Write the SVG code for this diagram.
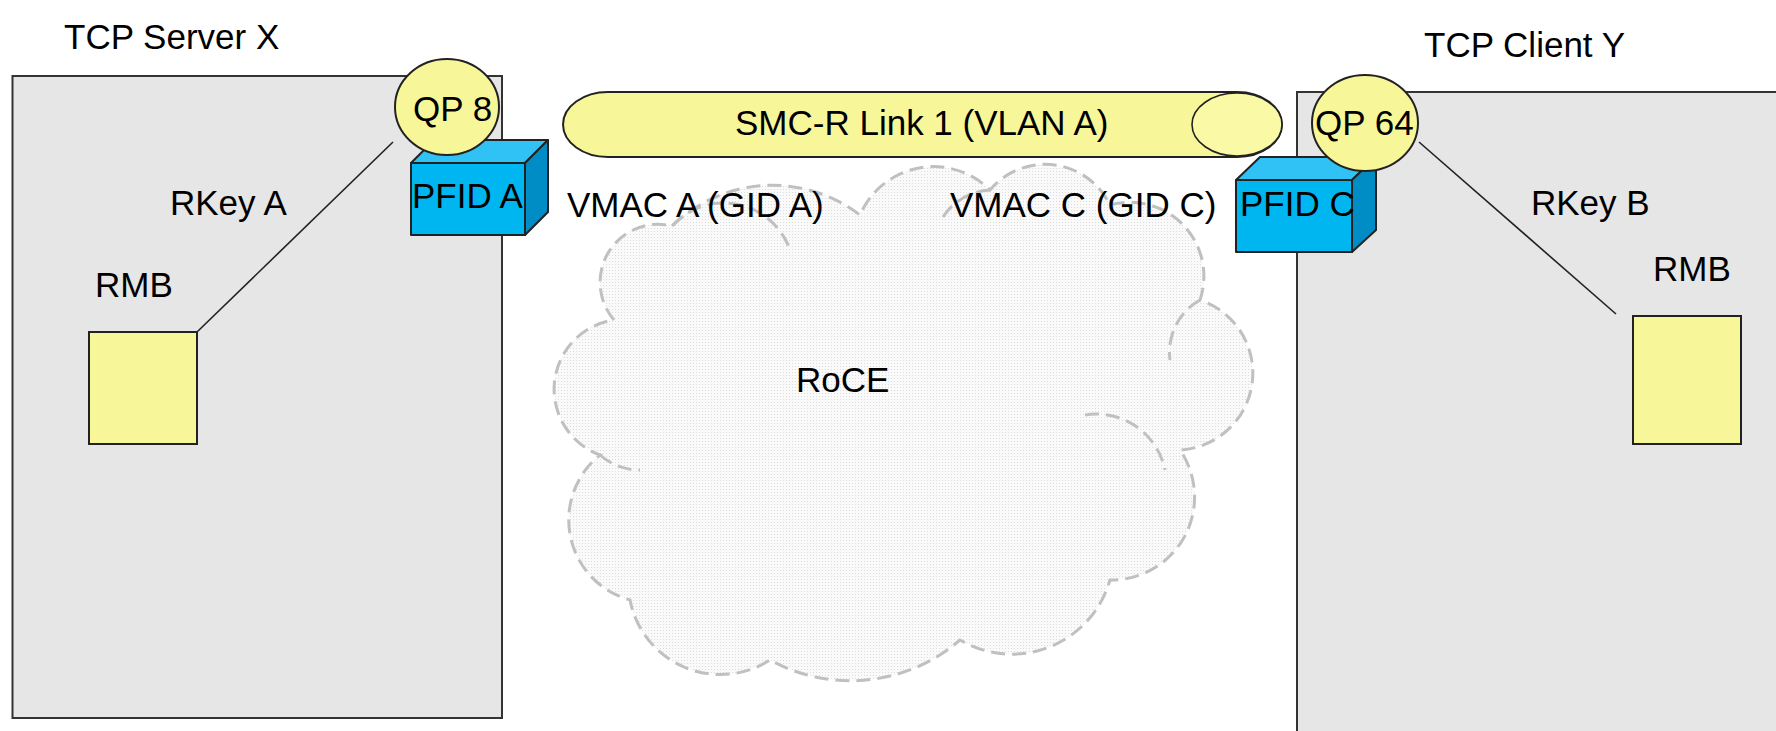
<svg xmlns="http://www.w3.org/2000/svg" width="1776" height="731" viewBox="0 0 1776 731">
<style>
text{font-family:"Liberation Sans",Arial,sans-serif;font-size:35px;fill:#000}
.host{fill:#e6e6e6;stroke:#333;stroke-width:2}
.yel{fill:#f7f79a;stroke:#222;stroke-width:2}
.front{fill:#00b6f0;stroke:#222;stroke-width:2;stroke-linejoin:round}
.top{fill:#30c2f4;stroke:#222;stroke-width:2;stroke-linejoin:round}
.side{fill:#008cc4;stroke:#222;stroke-width:2;stroke-linejoin:round}
.conn{stroke:#222;stroke-width:1.6;fill:none}
.cloud{stroke:#c0c0c0;stroke-width:3;stroke-dasharray:14 7}
</style>
<defs>
<pattern id="dots" width="3" height="3" patternUnits="userSpaceOnUse">
<rect width="3" height="3" fill="#fafafa"/>
<rect width="1" height="1" fill="#dcdcdc"/>
</pattern>
</defs>
<g id="server-x">
<rect class="host" x="12.5" y="76" width="489.5" height="642"/>
<text x="64" y="49">TCP Server X</text>
</g>
<g id="client-y">
<rect class="host" x="1297" y="92" width="500" height="660"/>
<text x="1424" y="57">TCP Client Y</text>
</g>
<g id="roce">
<path class="cloud" fill="url(#dots)" d="M 614 320 A 58 58 0 0 1 672 226 A 144 144 0 0 1 860 215 A 80 80 0 0 1 990 190 A 72 72 0 0 1 1110 205 A 74 74 0 0 1 1200 300 A 77 77 0 0 1 1180 450 A 83 83 0 0 1 1110 580 A 102 102 0 0 1 960 640 A 167 167 0 0 1 770 660 A 92 92 0 0 1 630 600 A 83 83 0 0 1 600 455 A 70 70 0 0 1 614 320 Z"/>
<path class="cloud" fill="none" d="M 672 226 A 70 70 0 0 1 790 250 M 990 190 A 60 60 0 0 0 940 222 M 1200 300 A 60 60 0 0 0 1170 360 M 1085 415 A 70 70 0 0 1 1165 470 M 600 455 A 60 60 0 0 0 640 470"/>
<text x="796" y="392">RoCE</text>
</g>
<g id="link">
<path class="yel" d="M 608 92 L 1237 92 A 45 32.5 0 0 1 1237 157 L 608 157 A 45 32.5 0 0 1 608 92 Z"/>
<ellipse cx="1237" cy="124.5" rx="45" ry="31.5" fill="#f9f9a6" stroke="#222" stroke-width="1.6"/>
<text x="735" y="135">SMC-R Link 1 (VLAN A)</text>
</g>
<g id="connectors">
<line class="conn" x1="393" y1="142" x2="197" y2="332"/>
<line class="conn" x1="1419" y1="142" x2="1616" y2="314"/>
</g>
<g id="pfid-a">
<polygon class="top" points="411,163 434,140 548,140 525,163"/>
<polygon class="side" points="525,163 548,140 548,212 525,235"/>
<rect class="front" x="411" y="163" width="114" height="72"/>
<text x="412" y="208">PFID A</text>
</g>
<g id="pfid-c">
<polygon class="top" points="1236,180 1260,157 1376,157 1352,180"/>
<polygon class="side" points="1352,180 1376,157 1376,230 1352,252"/>
<rect class="front" x="1236" y="180" width="116" height="72"/>
<text x="1240" y="216">PFID C</text>
</g>
<g id="qp8">
<ellipse class="yel" cx="447" cy="107" rx="52" ry="48"/>
<text x="413" y="121">QP 8</text>
</g>
<g id="qp64">
<ellipse class="yel" cx="1365" cy="123" rx="53" ry="48"/>
<text x="1315" y="135">QP 64</text>
</g>
<g id="vmac-a"><text x="567" y="217">VMAC A (GID A)</text></g>
<g id="vmac-c"><text x="950" y="217">VMAC C (GID C)</text></g>
<g id="rmb-a">
<rect class="yel" x="89" y="332" width="108" height="112"/>
<text x="95" y="297">RMB</text>
<text x="170" y="215">RKey A</text>
</g>
<g id="rmb-b">
<rect class="yel" x="1633" y="316" width="108" height="128"/>
<text x="1653" y="281">RMB</text>
<text x="1531" y="215">RKey B</text>
</g>
</svg>
